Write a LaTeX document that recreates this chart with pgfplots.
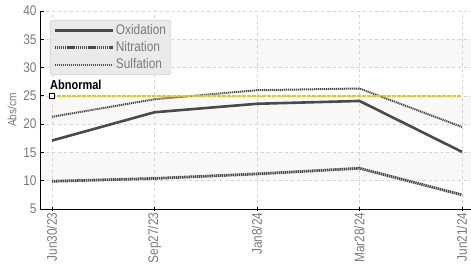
\documentclass[border=0pt]{standalone}
\usepackage{pgfplots}
\pgfplotsset{compat=1.18}
\usepackage{fontspec}
\setmainfont{Liberation Sans}[FakeStretch=0.85]
\definecolor{linegray}{HTML}{4A4A4A}
\definecolor{tickgray}{HTML}{7A7A7A}
\definecolor{gridgray}{HTML}{D4D4D4}
\definecolor{bandgray}{HTML}{F8F8F8}
\definecolor{abnyellow}{HTML}{F5C400}
\definecolor{legfill}{HTML}{EAEAEA}
\definecolor{legdraw}{HTML}{C4C4C4}
\begin{document}
\begin{tikzpicture}
\begin{axis}[
  set layers,
  scale only axis,
  width=431bp, height=198bp,
  xmin=-0.117, xmax=4.088,
  ymin=5, ymax=40,
  axis x line*=bottom, axis y line*=left,
  axis line style={black, line width=0.9bp, -},
  xtick={0,1,2,3,4},
  xticklabels={Jun30/23,Sep27/23,Jan8/24,Mar28/24,Jun21/24},
  ytick={5,10,...,40},
  x tick label style={rotate=90, anchor=east, font=\fontsize{14}{16}\selectfont, text=tickgray},
  y tick label style={font=\fontsize{14}{16}\selectfont, text=tickgray},
  /pgf/number format/assume math mode=true,
  xmajorgrids, ymajorgrids,
  grid style={gridgray, dashed, line width=0.7bp},
  major tick length=4bp,
  tick style={black, line width=0.9bp},
  x tick style={/pgfplots/tick align=center},
  y tick style={/pgfplots/tick align=inside},
  ylabel={Abs/cm},
  ylabel style={font=\fontsize{12}{14}\selectfont, text=tickgray},
  legend style={at={(rel axis cs:0.023,0.955)}, anchor=north west, fill=legfill, draw=legdraw, rounded corners=3bp,
    font=\fontsize{14}{15}\selectfont, text=tickgray, row sep=1.5bp, inner xsep=3bp, inner ysep=2.5bp},
  legend cell align=left,
]
\begin{pgfonlayer}{axis background}
\fill[bandgray] (axis cs:-0.117,10) rectangle (axis cs:4.088,15);
\fill[bandgray] (axis cs:-0.117,20) rectangle (axis cs:4.088,25);
\fill[bandgray] (axis cs:-0.117,30) rectangle (axis cs:4.088,35);
\end{pgfonlayer}
\addlegendimage{legend image code/.code={\draw[linegray, line width=2.6bp, sharp corners] (0bp,0bp) -- (58bp,0bp);}}
\addlegendentry{Oxidation}
\addlegendimage{legend image code/.code={\draw[linegray, line width=2.8bp, dash pattern=on 1.4bp off 0.7bp, sharp corners] (0bp,0bp) -- (58bp,0bp);}}
\addlegendentry{Nitration}
\addlegendimage{legend image code/.code={\draw[linegray, line width=2bp, dash pattern=on 1.2bp off 0.8bp, sharp corners] (0bp,0bp) -- (58bp,0bp);}}
\addlegendentry{Sulfation}
\addplot[linegray, line width=2.6bp, forget plot] coordinates {(0,17.1) (1,22.1) (2,23.6) (3,24.1) (4,15.1)};
\addplot[linegray, line width=2.8bp, dash pattern=on 1.4bp off 0.7bp, forget plot] coordinates {(0,9.9) (1,10.4) (2,11.2) (3,12.2) (4,7.5)};
\addplot[linegray, line width=2bp, dash pattern=on 1.2bp off 0.8bp, forget plot] coordinates {(0,21.3) (1,24.4) (2,26.0) (3,26.3) (4,19.5)};
\addplot[abnyellow, line width=2bp, dash pattern=on 4bp off 1bp, forget plot] coordinates {(0,25) (4,25)};
\addplot[only marks, mark=square*, mark size=2.2bp, mark options={fill=white, draw=black, line width=0.9bp, solid}, forget plot] coordinates {(0,25)};
\node[anchor=south west, inner sep=0pt, font=\fontsize{13}{14}\selectfont\bfseries, text=black] at (axis cs:-0.02,26.1) {Abnormal};
\end{axis}
\pgfresetboundingbox
\useasboundingbox ([shift={(-40bp,-66bp)}]current axis.south west) rectangle ([shift={(0bp,11bp)}]current axis.north east);
\end{tikzpicture}
\end{document}
